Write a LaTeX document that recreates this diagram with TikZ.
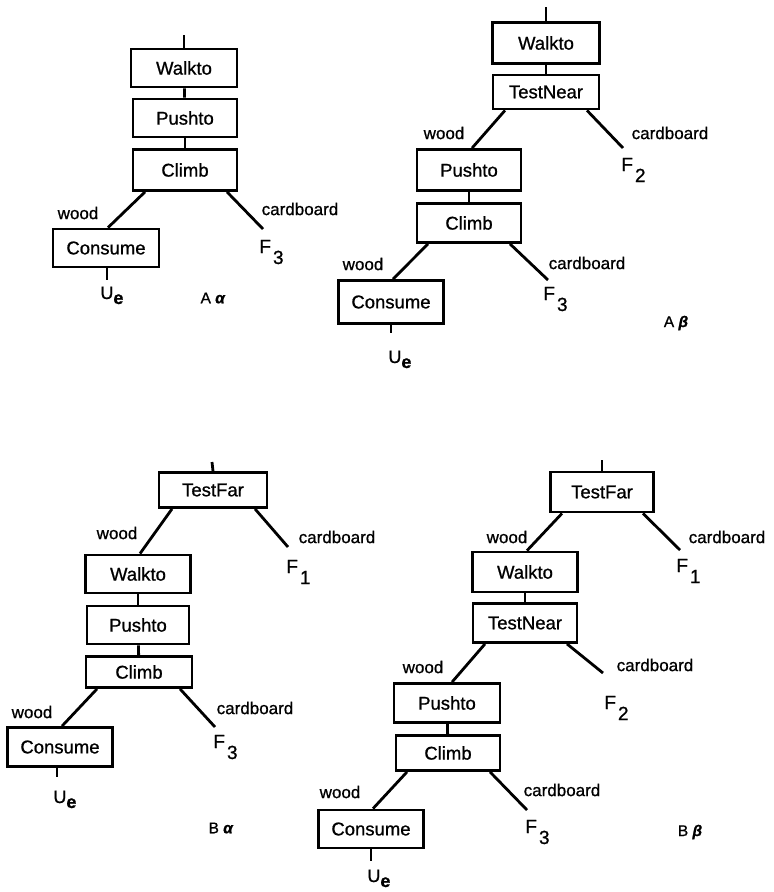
\documentclass[tikz,border=0pt]{standalone}
\usepackage{fontspec}
\setmainfont[FakeBold=0.9]{Liberation Sans}
\usetikzlibrary{calc}
\newcommand{\Fsub}[1]{F\hspace{2pt}\raisebox{-11pt}{#1}}
\newcommand{\Ue}{U\raisebox{-5pt}{\bfseries e}}
\begin{document}
\begin{tikzpicture}[x=1pt,y=-1pt,
  line width=2.8pt,
  act/.style={draw, line width=2.8pt, inner sep=0pt, font=\fontsize{18.5}{20}\selectfont},
  lbl/.style={font=\fontsize{17}{18}\selectfont, inner sep=0pt},
  leaf/.style={font=\fontsize{19}{20}\selectfont, inner sep=0pt, anchor=base west},
  tag/.style={font=\fontsize{15.5}{17}\selectfont, inner sep=0pt}]
\useasboundingbox (0,0) rectangle (774,892);

% ---------------- tree A alpha ----------------
\node[act, minimum width=106, minimum height=38] (walkAa) at (184,68) {Walkto};
\node[act, minimum width=104, minimum height=38] (pushAa) at (185,118) {Pushto};
\node[act, minimum width=104, minimum height=41] (climbAa) at (185,170) {Climb};
\node[act, minimum width=106, minimum height=38] (consAa) at (106,248) {Consume};
\coordinate (topAa) at (184,35);
\coordinate (cbAa) at (263,229);
\coordinate (ueAa) at (107,280);
\node[lbl] (woodAa) at (78,213) {wood};
\node[lbl] (cardAa) at (300,209) {cardboard};
\node[leaf] (fAa) at (258,253) {\Fsub{3}};
\node[leaf, font=\fontsize{18}{20}\selectfont] (uAa) at (99,299) {\Ue};
\node[tag] (tagAa) at (213,298) {A \textbf{\textit{α}}};
\draw (topAa) -- (walkAa.north);
\draw (walkAa) -- (pushAa);
\draw (pushAa) -- (climbAa);
\draw ($(climbAa.south)+(-40,0)$) -- ($(consAa.north)+(2,0)$);
\draw ($(climbAa.south)+(42,0)$) -- (cbAa);
\draw ($(consAa.south)+(1,0)$) -- (ueAa);

% ---------------- tree A beta ----------------
\node[act, minimum width=107, minimum height=41] (walkAb) at (546,43) {Walkto};
\node[act, minimum width=106, minimum height=34] (nearAb) at (546,92) {TestNear};
\node[act, minimum width=104, minimum height=41] (pushAb) at (469,170) {Pushto};
\node[act, minimum width=104, minimum height=39] (climbAb) at (469,223) {Climb};
\node[act, minimum width=105, minimum height=43] (consAb) at (391,302) {Consume};
\coordinate (topAb) at (546,7);
\coordinate (cbAb1) at (623,148);
\coordinate (cbAb2) at (548,280);
\coordinate (ueAb) at (391,333);
\node[lbl] (woodAb1) at (444,133) {wood};
\node[lbl] (cardAb1) at (670,133) {cardboard};
\node[lbl] (woodAb2) at (363,264) {wood};
\node[lbl] (cardAb2) at (587,263) {cardboard};
\node[leaf] (fAb1) at (620,171) {\Fsub{2}};
\node[leaf] (fAb2) at (542,300) {\Fsub{3}};
\node[leaf, font=\fontsize{18}{20}\selectfont] (uAb) at (387,363) {\Ue};
\node[tag] (tagAb) at (676,323) {A \textbf{\textit{β}}};
\draw (topAb) -- (walkAb.north);
\draw (walkAb) -- (nearAb);
\draw ($(nearAb.south)+(-41,0)$) -- ($(pushAb.north)+(3,0)$);
\draw ($(nearAb.south)+(41,0)$) -- (cbAb1);
\draw (pushAb) -- (climbAb);
\draw ($(climbAb.south)+(-41,0)$) -- ($(consAb.north)+(2,0)$);
\draw ($(climbAb.south)+(41,0)$) -- (cbAb2);
\draw (consAb.south) -- (ueAb);

% ---------------- tree B alpha ----------------
\node[act, minimum width=108, minimum height=35] (farBa) at (213,490) {TestFar};
\node[act, minimum width=105, minimum height=38] (walkBa) at (138,574) {Walkto};
\node[act, minimum width=102, minimum height=38] (pushBa) at (138,625) {Pushto};
\node[act, minimum width=106, minimum height=31] (climbBa) at (139,672) {Climb};
\node[act, minimum width=105, minimum height=39] (consBa) at (60,747) {Consume};
\coordinate (topBa) at (212,462);
\coordinate (cbBa1) at (288,547);
\coordinate (cbBa2) at (215,727);
\coordinate (ueBa) at (57,777);
\node[lbl] (woodBa1) at (117,533) {wood};
\node[lbl] (cardBa1) at (337,537) {cardboard};
\node[lbl] (woodBa2) at (32,712) {wood};
\node[lbl] (cardBa2) at (255,708) {cardboard};
\node[leaf] (fBa1) at (285,573) {\Fsub{1}};
\node[leaf] (fBa2) at (212,748) {\Fsub{3}};
\node[leaf, font=\fontsize{18}{20}\selectfont] (uBa) at (52,803) {\Ue};
\node[tag] (tagBa) at (221,828) {B \textbf{\textit{α}}};
\draw (topBa) -- (farBa.north);
\draw ($(farBa.south)+(-41,0)$) -- ($(walkBa.north)+(2,0)$);
\draw ($(farBa.south)+(42,0)$) -- (cbBa1);
\draw (walkBa) -- (pushBa);
\draw (pushBa) -- (climbBa);
\draw ($(climbBa.south)+(-42,0)$) -- ($(consBa.north)+(2,0)$);
\draw ($(climbBa.south)+(41,0)$) -- (cbBa2);
\draw ($(consBa.south)+(-3,0)$) -- (ueBa);

% ---------------- tree B beta ----------------
\node[act, minimum width=103, minimum height=40] (farBb) at (602,492) {TestFar};
\node[act, minimum width=105, minimum height=40] (walkBb) at (525,572) {Walkto};
\node[act, minimum width=104, minimum height=39] (nearBb) at (525,623) {TestNear};
\node[act, minimum width=106, minimum height=39] (pushBb) at (447,703) {Pushto};
\node[act, minimum width=104, minimum height=35] (climbBb) at (448,753) {Climb};
\node[act, minimum width=105, minimum height=38] (consBb) at (371,829) {Consume};
\coordinate (topBb) at (602,460);
\coordinate (cbBb1) at (680,550);
\coordinate (cbBb2) at (603,673);
\coordinate (cbBb3) at (527,810);
\coordinate (ueBb) at (371,861);
\node[lbl] (woodBb1) at (507,537) {wood};
\node[lbl] (cardBb1) at (727,537) {cardboard};
\node[lbl] (woodBb2) at (423,667) {wood};
\node[lbl] (cardBb2) at (655,665) {cardboard};
\node[lbl] (woodBb3) at (340,792) {wood};
\node[lbl] (cardBb3) at (562,790) {cardboard};
\node[leaf] (fBb1) at (675,572) {\Fsub{1}};
\node[leaf] (fBb2) at (603,709) {\Fsub{2}};
\node[leaf] (fBb3) at (524,833) {\Fsub{3}};
\node[leaf, font=\fontsize{18}{20}\selectfont] (uBb) at (366,882) {\Ue};
\node[tag] (tagBb) at (690,832) {B \textbf{\textit{β}}};
\draw (topBb) -- (farBb.north);
\draw ($(farBb.south)+(-40,0)$) -- ($(walkBb.north)+(2,0)$);
\draw ($(farBb.south)+(41,0)$) -- (cbBb1);
\draw (walkBb) -- (nearBb);
\draw ($(nearBb.south)+(-40,0)$) -- ($(pushBb.north)+(5,0)$);
\draw ($(nearBb.south)+(42,0)$) -- (cbBb2);
\draw (pushBb) -- (climbBb);
\draw ($(climbBb.south)+(-41,0)$) -- ($(consBb.north)+(2,0)$);
\draw ($(climbBb.south)+(42,0)$) -- (cbBb3);
\draw (consBb.south) -- (ueBb);
\end{tikzpicture}
\end{document}
